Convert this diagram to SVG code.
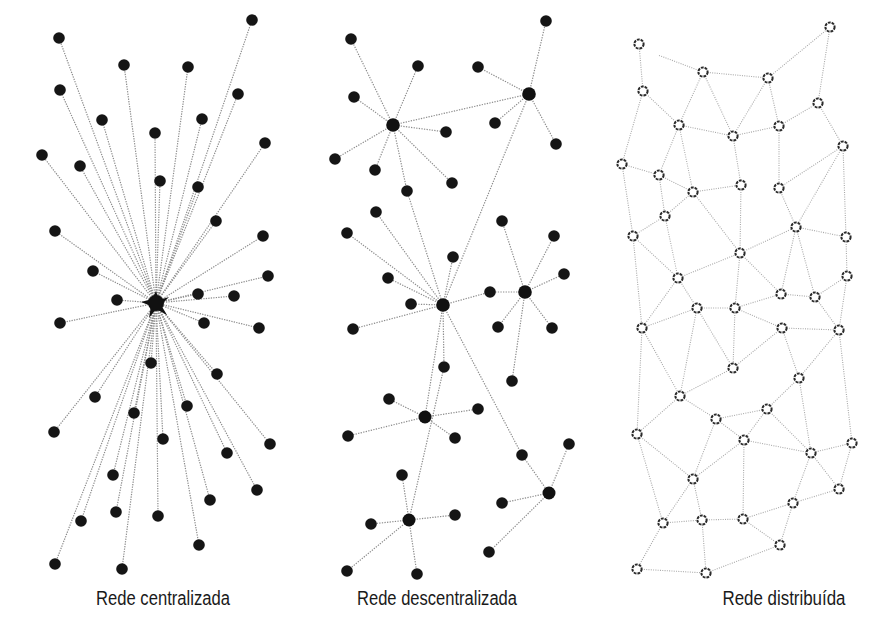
<svg xmlns="http://www.w3.org/2000/svg" width="871" height="624" viewBox="0 0 871 624">
<style>
.e1{stroke:#8c8c8c;stroke-width:1.2;stroke-dasharray:1.3 1.2;fill:none}
.e2{stroke:#8c8c8c;stroke-width:1.2;stroke-dasharray:1.3 1.3;fill:none}
.e3{stroke:#a8a8a8;stroke-width:1.1;stroke-dasharray:1 1.3;fill:none}
.dot{fill:#151515}
.hub{fill:#111}
.ring{fill:#fff;stroke:#2a2a2a;stroke-width:2;stroke-dasharray:2.8 1}
.lbl{font-family:"Liberation Sans","Open Sans",sans-serif;font-size:20px;fill:#1a1a1a;text-anchor:middle}
</style>
<rect width="871" height="624" fill="#fff"/>

<!-- ============ Panel 1: centralized ============ -->
<g id="connectors-centralized" class="e1">
<line x1="156" y1="303" x2="59" y2="38"/>
<line x1="156" y1="303" x2="252" y2="20"/>
<line x1="156" y1="303" x2="124" y2="65"/>
<line x1="156" y1="303" x2="188" y2="67"/>
<line x1="156" y1="303" x2="60" y2="90"/>
<line x1="156" y1="303" x2="238" y2="94"/>
<line x1="156" y1="303" x2="102" y2="120"/>
<line x1="156" y1="303" x2="155" y2="133"/>
<line x1="156" y1="303" x2="202" y2="119"/>
<line x1="156" y1="303" x2="42" y2="155"/>
<line x1="156" y1="303" x2="80" y2="166"/>
<line x1="156" y1="303" x2="265" y2="143"/>
<line x1="156" y1="303" x2="160" y2="181"/>
<line x1="156" y1="303" x2="198" y2="187"/>
<line x1="156" y1="303" x2="55" y2="231"/>
<line x1="156" y1="303" x2="216" y2="221"/>
<line x1="156" y1="303" x2="263" y2="236"/>
<line x1="156" y1="303" x2="93" y2="271"/>
<line x1="156" y1="303" x2="268" y2="276"/>
<line x1="156" y1="303" x2="117" y2="300"/>
<line x1="156" y1="303" x2="198" y2="294"/>
<line x1="156" y1="303" x2="234" y2="296"/>
<line x1="156" y1="303" x2="60" y2="323"/>
<line x1="156" y1="303" x2="204" y2="323"/>
<line x1="156" y1="303" x2="259" y2="328"/>
<line x1="156" y1="303" x2="151" y2="363"/>
<line x1="156" y1="303" x2="217" y2="374"/>
<line x1="156" y1="303" x2="95" y2="397"/>
<line x1="156" y1="303" x2="134" y2="413"/>
<line x1="156" y1="303" x2="187" y2="406"/>
<line x1="156" y1="303" x2="54" y2="432"/>
<line x1="156" y1="303" x2="163" y2="439"/>
<line x1="156" y1="303" x2="270" y2="444"/>
<line x1="156" y1="303" x2="227" y2="453"/>
<line x1="156" y1="303" x2="113" y2="475"/>
<line x1="156" y1="303" x2="257" y2="490"/>
<line x1="156" y1="303" x2="210" y2="500"/>
<line x1="156" y1="303" x2="116" y2="512"/>
<line x1="156" y1="303" x2="81" y2="521"/>
<line x1="156" y1="303" x2="158" y2="516"/>
<line x1="156" y1="303" x2="199" y2="545"/>
<line x1="156" y1="303" x2="55" y2="564"/>
<line x1="156" y1="303" x2="122" y2="569"/>
</g>
<g id="c-hub"><circle class="hub" cx="156" cy="303" r="8"/><path d="M156 291 L159 300 L169 297 L161 305 L167 315 L156 309 L149 318 L151 306 L141 302 L152 299 Z" fill="#111"/></g>
<g id="c-nodes">
<g id="c1"><circle class="dot" cx="59" cy="38" r="5.8"/></g>
<g id="c2"><circle class="dot" cx="252" cy="20" r="5.8"/></g>
<g id="c3"><circle class="dot" cx="124" cy="65" r="5.8"/></g>
<g id="c4"><circle class="dot" cx="188" cy="67" r="5.8"/></g>
<g id="c5"><circle class="dot" cx="60" cy="90" r="5.8"/></g>
<g id="c6"><circle class="dot" cx="238" cy="94" r="5.8"/></g>
<g id="c7"><circle class="dot" cx="102" cy="120" r="5.8"/></g>
<g id="c8"><circle class="dot" cx="155" cy="133" r="5.8"/></g>
<g id="c9"><circle class="dot" cx="202" cy="119" r="5.8"/></g>
<g id="c10"><circle class="dot" cx="42" cy="155" r="5.8"/></g>
<g id="c11"><circle class="dot" cx="80" cy="166" r="5.8"/></g>
<g id="c12"><circle class="dot" cx="265" cy="143" r="5.8"/></g>
<g id="c13"><circle class="dot" cx="160" cy="181" r="5.8"/></g>
<g id="c14"><circle class="dot" cx="198" cy="187" r="5.8"/></g>
<g id="c15"><circle class="dot" cx="55" cy="231" r="5.8"/></g>
<g id="c16"><circle class="dot" cx="216" cy="221" r="5.8"/></g>
<g id="c17"><circle class="dot" cx="263" cy="236" r="5.8"/></g>
<g id="c18"><circle class="dot" cx="93" cy="271" r="5.8"/></g>
<g id="c19"><circle class="dot" cx="268" cy="276" r="5.8"/></g>
<g id="c20"><circle class="dot" cx="117" cy="300" r="5.8"/></g>
<g id="c21"><circle class="dot" cx="198" cy="294" r="5.8"/></g>
<g id="c22"><circle class="dot" cx="234" cy="296" r="5.8"/></g>
<g id="c23"><circle class="dot" cx="60" cy="323" r="5.8"/></g>
<g id="c24"><circle class="dot" cx="204" cy="323" r="5.8"/></g>
<g id="c25"><circle class="dot" cx="259" cy="328" r="5.8"/></g>
<g id="c26"><circle class="dot" cx="151" cy="363" r="5.8"/></g>
<g id="c27"><circle class="dot" cx="217" cy="374" r="5.8"/></g>
<g id="c28"><circle class="dot" cx="95" cy="397" r="5.8"/></g>
<g id="c29"><circle class="dot" cx="134" cy="413" r="5.8"/></g>
<g id="c30"><circle class="dot" cx="187" cy="406" r="5.8"/></g>
<g id="c31"><circle class="dot" cx="54" cy="432" r="5.8"/></g>
<g id="c32"><circle class="dot" cx="163" cy="439" r="5.8"/></g>
<g id="c33"><circle class="dot" cx="270" cy="444" r="5.8"/></g>
<g id="c34"><circle class="dot" cx="227" cy="453" r="5.8"/></g>
<g id="c35"><circle class="dot" cx="113" cy="475" r="5.8"/></g>
<g id="c36"><circle class="dot" cx="257" cy="490" r="5.8"/></g>
<g id="c37"><circle class="dot" cx="210" cy="500" r="5.8"/></g>
<g id="c38"><circle class="dot" cx="116" cy="512" r="5.8"/></g>
<g id="c39"><circle class="dot" cx="81" cy="521" r="5.8"/></g>
<g id="c40"><circle class="dot" cx="158" cy="516" r="5.8"/></g>
<g id="c41"><circle class="dot" cx="199" cy="545" r="5.8"/></g>
<g id="c42"><circle class="dot" cx="55" cy="564" r="5.8"/></g>
<g id="c43"><circle class="dot" cx="122" cy="569" r="5.8"/></g>
</g>

<!-- ============ Panel 2: decentralized ============ -->
<g id="connectors-decentralized" class="e2">
<line x1="393" y1="125" x2="351" y2="39"/>
<line x1="393" y1="125" x2="418" y2="66"/>
<line x1="393" y1="125" x2="354" y2="97"/>
<line x1="393" y1="125" x2="446" y2="132"/>
<line x1="393" y1="125" x2="335" y2="159"/>
<line x1="393" y1="125" x2="375" y2="170"/>
<line x1="393" y1="125" x2="407" y2="191"/>
<line x1="393" y1="125" x2="452" y2="183"/>
<line x1="393" y1="125" x2="529" y2="94"/>
<line x1="407" y1="191" x2="443" y2="305"/>
<line x1="529" y1="94" x2="546" y2="21"/>
<line x1="529" y1="94" x2="478" y2="67"/>
<line x1="529" y1="94" x2="495" y2="123"/>
<line x1="529" y1="94" x2="556" y2="144"/>
<line x1="529" y1="94" x2="443" y2="305"/>
<line x1="443" y1="305" x2="376" y2="212"/>
<line x1="443" y1="305" x2="347" y2="233"/>
<line x1="443" y1="305" x2="453" y2="257"/>
<line x1="443" y1="305" x2="388" y2="278"/>
<line x1="443" y1="305" x2="411" y2="304"/>
<line x1="443" y1="305" x2="353" y2="329"/>
<line x1="443" y1="305" x2="444" y2="367"/>
<line x1="443" y1="305" x2="490" y2="292"/>
<line x1="443" y1="305" x2="425" y2="417"/>
<line x1="443" y1="305" x2="522" y2="455"/>
<line x1="490" y1="292" x2="525" y2="292"/>
<line x1="525" y1="292" x2="502" y2="221"/>
<line x1="525" y1="292" x2="554" y2="236"/>
<line x1="525" y1="292" x2="564" y2="274"/>
<line x1="525" y1="292" x2="498" y2="327"/>
<line x1="525" y1="292" x2="552" y2="328"/>
<line x1="525" y1="292" x2="512" y2="381"/>
<line x1="444" y1="367" x2="409" y2="520"/>
<line x1="425" y1="417" x2="389" y2="399"/>
<line x1="425" y1="417" x2="478" y2="409"/>
<line x1="425" y1="417" x2="348" y2="436"/>
<line x1="425" y1="417" x2="455" y2="438"/>
<line x1="522" y1="455" x2="549" y2="493"/>
<line x1="549" y1="493" x2="569" y2="444"/>
<line x1="549" y1="493" x2="502" y2="503"/>
<line x1="549" y1="493" x2="489" y2="552"/>
<line x1="409" y1="520" x2="402" y2="475"/>
<line x1="409" y1="520" x2="371" y2="524"/>
<line x1="409" y1="520" x2="455" y2="515"/>
<line x1="409" y1="520" x2="347" y2="571"/>
<line x1="409" y1="520" x2="417" y2="574"/>
</g>
<g id="d-nodes">
<g id="dA"><circle class="hub" cx="393" cy="125" r="6.8"/></g>
<g id="dB"><circle class="hub" cx="529" cy="94" r="6.8"/></g>
<g id="dC"><circle class="hub" cx="443" cy="305" r="6.8"/></g>
<g id="dD"><circle class="hub" cx="525" cy="292" r="6.8"/></g>
<g id="dE"><circle class="hub" cx="425" cy="417" r="6.5"/></g>
<g id="dF"><circle class="hub" cx="549" cy="493" r="6.5"/></g>
<g id="dG"><circle class="hub" cx="409" cy="520" r="6.5"/></g>
<g id="d1"><circle class="dot" cx="351" cy="39" r="5.8"/></g>
<g id="d2"><circle class="dot" cx="418" cy="66" r="5.8"/></g>
<g id="d3"><circle class="dot" cx="354" cy="97" r="5.8"/></g>
<g id="d4"><circle class="dot" cx="446" cy="132" r="5.8"/></g>
<g id="d5"><circle class="dot" cx="335" cy="159" r="5.8"/></g>
<g id="d6"><circle class="dot" cx="375" cy="170" r="5.8"/></g>
<g id="d7"><circle class="dot" cx="407" cy="191" r="5.8"/></g>
<g id="d8"><circle class="dot" cx="452" cy="183" r="5.8"/></g>
<g id="d9"><circle class="dot" cx="546" cy="21" r="5.8"/></g>
<g id="d10"><circle class="dot" cx="478" cy="67" r="5.8"/></g>
<g id="d11"><circle class="dot" cx="495" cy="123" r="5.8"/></g>
<g id="d12"><circle class="dot" cx="556" cy="144" r="5.8"/></g>
<g id="d13"><circle class="dot" cx="376" cy="212" r="5.8"/></g>
<g id="d14"><circle class="dot" cx="347" cy="233" r="5.8"/></g>
<g id="d15"><circle class="dot" cx="453" cy="257" r="5.8"/></g>
<g id="d16"><circle class="dot" cx="388" cy="278" r="5.8"/></g>
<g id="d17"><circle class="dot" cx="411" cy="304" r="5.8"/></g>
<g id="d18"><circle class="dot" cx="353" cy="329" r="5.8"/></g>
<g id="d19"><circle class="dot" cx="444" cy="367" r="5.8"/></g>
<g id="d20"><circle class="dot" cx="502" cy="221" r="5.8"/></g>
<g id="d21"><circle class="dot" cx="554" cy="236" r="5.8"/></g>
<g id="d22"><circle class="dot" cx="564" cy="274" r="5.8"/></g>
<g id="d23"><circle class="dot" cx="490" cy="292" r="5.8"/></g>
<g id="d24"><circle class="dot" cx="498" cy="327" r="5.8"/></g>
<g id="d25"><circle class="dot" cx="552" cy="328" r="5.8"/></g>
<g id="d26"><circle class="dot" cx="512" cy="381" r="5.8"/></g>
<g id="d27"><circle class="dot" cx="389" cy="399" r="5.8"/></g>
<g id="d28"><circle class="dot" cx="478" cy="409" r="5.8"/></g>
<g id="d29"><circle class="dot" cx="348" cy="436" r="5.8"/></g>
<g id="d30"><circle class="dot" cx="455" cy="438" r="5.8"/></g>
<g id="d31"><circle class="dot" cx="569" cy="444" r="5.8"/></g>
<g id="d32"><circle class="dot" cx="522" cy="455" r="5.8"/></g>
<g id="d33"><circle class="dot" cx="502" cy="503" r="5.8"/></g>
<g id="d34"><circle class="dot" cx="489" cy="552" r="5.8"/></g>
<g id="d35"><circle class="dot" cx="402" cy="475" r="5.8"/></g>
<g id="d36"><circle class="dot" cx="371" cy="524" r="5.8"/></g>
<g id="d37"><circle class="dot" cx="455" cy="515" r="5.8"/></g>
<g id="d38"><circle class="dot" cx="347" cy="571" r="5.8"/></g>
<g id="d39"><circle class="dot" cx="417" cy="574" r="5.8"/></g>
</g>

<!-- ============ Panel 3: distributed ============ -->
<g id="connectors-distributed" class="e3">
<line x1="639" y1="44" x2="643" y2="91"/>
<line x1="643" y1="91" x2="622" y2="164"/>
<line x1="643" y1="91" x2="679" y2="125"/>
<line x1="703" y1="72" x2="768" y2="78"/>
<line x1="703" y1="72" x2="658" y2="55"/>
<line x1="768" y1="78" x2="830" y2="27"/>
<line x1="830" y1="27" x2="818" y2="103"/>
<line x1="703" y1="72" x2="679" y2="125"/>
<line x1="703" y1="72" x2="733" y2="136"/>
<line x1="768" y1="78" x2="733" y2="136"/>
<line x1="768" y1="78" x2="779" y2="126"/>
<line x1="779" y1="126" x2="818" y2="103"/>
<line x1="733" y1="136" x2="779" y2="126"/>
<line x1="679" y1="125" x2="733" y2="136"/>
<line x1="818" y1="103" x2="843" y2="146"/>
<line x1="679" y1="125" x2="659" y2="175"/>
<line x1="679" y1="125" x2="693" y2="192"/>
<line x1="622" y1="164" x2="659" y2="175"/>
<line x1="659" y1="175" x2="693" y2="192"/>
<line x1="693" y1="192" x2="741" y2="185"/>
<line x1="733" y1="136" x2="741" y2="185"/>
<line x1="779" y1="126" x2="779" y2="188"/>
<line x1="843" y1="146" x2="779" y2="188"/>
<line x1="843" y1="146" x2="846" y2="237"/>
<line x1="622" y1="164" x2="633" y2="236"/>
<line x1="659" y1="175" x2="665" y2="216"/>
<line x1="741" y1="185" x2="740" y2="253"/>
<line x1="779" y1="188" x2="796" y2="227"/>
<line x1="693" y1="192" x2="740" y2="253"/>
<line x1="843" y1="146" x2="796" y2="227"/>
<line x1="665" y1="216" x2="693" y2="192"/>
<line x1="665" y1="216" x2="633" y2="236"/>
<line x1="665" y1="216" x2="678" y2="278"/>
<line x1="633" y1="236" x2="678" y2="278"/>
<line x1="633" y1="236" x2="642" y2="328"/>
<line x1="678" y1="278" x2="740" y2="253"/>
<line x1="740" y1="253" x2="796" y2="227"/>
<line x1="796" y1="227" x2="846" y2="237"/>
<line x1="796" y1="227" x2="781" y2="294"/>
<line x1="796" y1="227" x2="815" y2="297"/>
<line x1="846" y1="237" x2="847" y2="276"/>
<line x1="740" y1="253" x2="735" y2="308"/>
<line x1="740" y1="253" x2="781" y2="294"/>
<line x1="815" y1="297" x2="847" y2="276"/>
<line x1="781" y1="294" x2="815" y2="297"/>
<line x1="678" y1="278" x2="697" y2="308"/>
<line x1="678" y1="278" x2="642" y2="328"/>
<line x1="697" y1="308" x2="735" y2="308"/>
<line x1="735" y1="308" x2="781" y2="294"/>
<line x1="697" y1="308" x2="642" y2="328"/>
<line x1="735" y1="308" x2="782" y2="328"/>
<line x1="782" y1="328" x2="839" y2="330"/>
<line x1="815" y1="297" x2="839" y2="330"/>
<line x1="847" y1="276" x2="839" y2="330"/>
<line x1="697" y1="308" x2="733" y2="368"/>
<line x1="697" y1="308" x2="680" y2="396"/>
<line x1="782" y1="328" x2="733" y2="368"/>
<line x1="642" y1="328" x2="680" y2="396"/>
<line x1="839" y1="330" x2="799" y2="378"/>
<line x1="733" y1="368" x2="680" y2="396"/>
<line x1="735" y1="308" x2="733" y2="368"/>
<line x1="642" y1="328" x2="637" y2="434"/>
<line x1="839" y1="330" x2="852" y2="443"/>
<line x1="799" y1="378" x2="767" y2="409"/>
<line x1="799" y1="378" x2="811" y2="453"/>
<line x1="782" y1="328" x2="799" y2="378"/>
<line x1="680" y1="396" x2="716" y2="419"/>
<line x1="680" y1="396" x2="637" y2="434"/>
<line x1="716" y1="419" x2="767" y2="409"/>
<line x1="716" y1="419" x2="744" y2="440"/>
<line x1="716" y1="419" x2="693" y2="479"/>
<line x1="767" y1="409" x2="744" y2="440"/>
<line x1="767" y1="409" x2="811" y2="453"/>
<line x1="744" y1="440" x2="811" y2="453"/>
<line x1="811" y1="453" x2="852" y2="443"/>
<line x1="811" y1="453" x2="839" y2="489"/>
<line x1="852" y1="443" x2="839" y2="489"/>
<line x1="637" y1="434" x2="693" y2="479"/>
<line x1="744" y1="440" x2="693" y2="479"/>
<line x1="744" y1="440" x2="743" y2="519"/>
<line x1="637" y1="434" x2="663" y2="523"/>
<line x1="693" y1="479" x2="663" y2="523"/>
<line x1="693" y1="479" x2="702" y2="520"/>
<line x1="811" y1="453" x2="793" y2="503"/>
<line x1="839" y1="489" x2="793" y2="503"/>
<line x1="663" y1="523" x2="702" y2="520"/>
<line x1="702" y1="520" x2="743" y2="519"/>
<line x1="743" y1="519" x2="793" y2="503"/>
<line x1="743" y1="519" x2="780" y2="545"/>
<line x1="793" y1="503" x2="780" y2="545"/>
<line x1="663" y1="523" x2="637" y2="569"/>
<line x1="637" y1="569" x2="706" y2="573"/>
<line x1="706" y1="573" x2="780" y2="545"/>
<line x1="702" y1="520" x2="706" y2="573"/>
</g>
<g id="r-nodes">
<g id="r-a1"><circle class="ring" cx="639" cy="44" r="4.6"/></g>
<g id="r-a2"><circle class="ring" cx="830" cy="27" r="4.6"/></g>
<g id="r-a3"><circle class="ring" cx="703" cy="72" r="4.6"/></g>
<g id="r-a4"><circle class="ring" cx="768" cy="78" r="4.6"/></g>
<g id="r-a5"><circle class="ring" cx="643" cy="91" r="4.6"/></g>
<g id="r-a6"><circle class="ring" cx="818" cy="103" r="4.6"/></g>
<g id="r-a7"><circle class="ring" cx="679" cy="125" r="4.6"/></g>
<g id="r-a8"><circle class="ring" cx="733" cy="136" r="4.6"/></g>
<g id="r-a9"><circle class="ring" cx="779" cy="126" r="4.6"/></g>
<g id="r-a10"><circle class="ring" cx="843" cy="146" r="4.6"/></g>
<g id="r-a11"><circle class="ring" cx="622" cy="164" r="4.6"/></g>
<g id="r-a12"><circle class="ring" cx="659" cy="175" r="4.6"/></g>
<g id="r-a13"><circle class="ring" cx="741" cy="185" r="4.6"/></g>
<g id="r-a14"><circle class="ring" cx="693" cy="192" r="4.6"/></g>
<g id="r-a15"><circle class="ring" cx="779" cy="188" r="4.6"/></g>
<g id="r-b1"><circle class="ring" cx="665" cy="216" r="4.6"/></g>
<g id="r-b2"><circle class="ring" cx="796" cy="227" r="4.6"/></g>
<g id="r-b3"><circle class="ring" cx="633" cy="236" r="4.6"/></g>
<g id="r-b4"><circle class="ring" cx="846" cy="237" r="4.6"/></g>
<g id="r-b5"><circle class="ring" cx="740" cy="253" r="4.6"/></g>
<g id="r-b6"><circle class="ring" cx="678" cy="278" r="4.6"/></g>
<g id="r-b7"><circle class="ring" cx="847" cy="276" r="4.6"/></g>
<g id="r-b8"><circle class="ring" cx="781" cy="294" r="4.6"/></g>
<g id="r-b9"><circle class="ring" cx="815" cy="297" r="4.6"/></g>
<g id="r-b10"><circle class="ring" cx="697" cy="308" r="4.6"/></g>
<g id="r-b11"><circle class="ring" cx="735" cy="308" r="4.6"/></g>
<g id="r-b12"><circle class="ring" cx="642" cy="328" r="4.6"/></g>
<g id="r-b13"><circle class="ring" cx="782" cy="328" r="4.6"/></g>
<g id="r-b14"><circle class="ring" cx="839" cy="330" r="4.6"/></g>
<g id="r-b15"><circle class="ring" cx="733" cy="368" r="4.6"/></g>
<g id="r-b16"><circle class="ring" cx="799" cy="378" r="4.6"/></g>
<g id="r-c1"><circle class="ring" cx="680" cy="396" r="4.6"/></g>
<g id="r-c2"><circle class="ring" cx="767" cy="409" r="4.6"/></g>
<g id="r-c3"><circle class="ring" cx="716" cy="419" r="4.6"/></g>
<g id="r-c4"><circle class="ring" cx="637" cy="434" r="4.6"/></g>
<g id="r-c5"><circle class="ring" cx="744" cy="440" r="4.6"/></g>
<g id="r-c6"><circle class="ring" cx="811" cy="453" r="4.6"/></g>
<g id="r-c7"><circle class="ring" cx="852" cy="443" r="4.6"/></g>
<g id="r-c8"><circle class="ring" cx="693" cy="479" r="4.6"/></g>
<g id="r-c9"><circle class="ring" cx="839" cy="489" r="4.6"/></g>
<g id="r-c10"><circle class="ring" cx="793" cy="503" r="4.6"/></g>
<g id="r-c11"><circle class="ring" cx="663" cy="523" r="4.6"/></g>
<g id="r-c12"><circle class="ring" cx="702" cy="520" r="4.6"/></g>
<g id="r-c13"><circle class="ring" cx="743" cy="519" r="4.6"/></g>
<g id="r-c14"><circle class="ring" cx="780" cy="545" r="4.6"/></g>
<g id="r-c15"><circle class="ring" cx="637" cy="569" r="4.6"/></g>
<g id="r-c16"><circle class="ring" cx="706" cy="573" r="4.6"/></g>
</g>

<g id="labels">
<text class="lbl" x="163" y="605" textLength="134" lengthAdjust="spacingAndGlyphs">Rede centralizada</text>
<text class="lbl" x="437" y="605" textLength="160" lengthAdjust="spacingAndGlyphs">Rede descentralizada</text>
<text class="lbl" x="784" y="605" textLength="123" lengthAdjust="spacingAndGlyphs">Rede distribuída</text>
</g>
</svg>
